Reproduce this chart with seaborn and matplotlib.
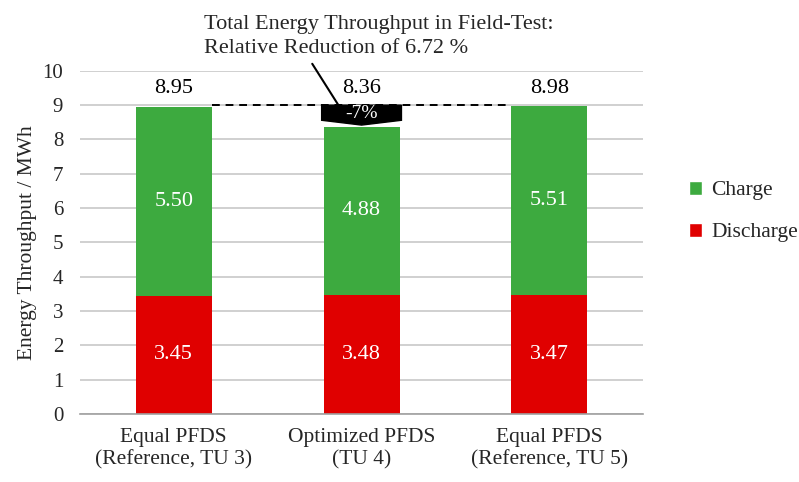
import numpy as np
import pandas as pd
import seaborn as sns
import matplotlib.pyplot as plt
from matplotlib.patches import Polygon, Patch

categories = ['Equal PFDS\n(Reference, TU 3)', 'Optimized PFDS\n(TU 4)', 'Equal PFDS\n(Reference, TU 5)']
charge = [5.50, 4.88, 5.51]
discharge = [3.45, 3.48, 3.47]
totals = [8.95, 8.36, 8.98]
reduction_label = '-7%'
note = 'Total Energy Throughput in Field-Test:\nRelative Reduction of 6.72 %'

green = '#3DAA3F'
red = '#E00000'

sns.set_theme(style='white')
plt.rcParams['font.family'] = ['Liberation Serif', 'DejaVu Serif']

df = pd.DataFrame({'cat': categories, 'charge': charge, 'discharge': discharge, 'total': totals})

fig = plt.figure(figsize=(7.99, 4.82), dpi=100)
ax = fig.add_axes([0.100, 0.141, 0.705, 0.712])

ax.set_axisbelow(True)
ax.yaxis.grid(True, color='#c8c8c8', linewidth=1.2)
bw = 0.405
sns.barplot(data=df, x='cat', y='total', color=green, width=bw, saturation=1, ax=ax, linewidth=0)
sns.barplot(data=df, x='cat', y='discharge', color=red, width=bw, saturation=1, ax=ax, linewidth=0)

ax.set_ylim(0, 10)
ax.set_xlim(-0.5, 2.5)
ax.set_yticks(range(0, 11))
ax.tick_params(axis='y', labelsize=15, length=0, pad=12)
ax.tick_params(axis='x', labelsize=15.5, length=0, pad=10)
ax.set_xlabel('')
ax.set_ylabel('Energy Throughput / MWh', fontsize=15.5, labelpad=4)
for s in ['top', 'right', 'left']:
    ax.spines[s].set_visible(False)
ax.spines['bottom'].set_color('#a0a0a0')
ax.spines['bottom'].set_linewidth(1.2)

for i in range(len(categories)):
    ax.text(i, discharge[i] / 2, f'{discharge[i]:.2f}', color='white', ha='center', va='center', fontsize=16)
    ax.text(i, discharge[i] + charge[i] / 2, f'{charge[i]:.2f}', color='white', ha='center', va='center', fontsize=16)
    ax.text(i, 9.2, f'{totals[i]:.2f}', color='black', ha='center', va='bottom', fontsize=16)

# dashed reference line at the first total
ax.plot([0 + bw / 2, 2 - bw / 2], [9, 9], color='black', linestyle=(0, (4, 3)), linewidth=1.4, zorder=3)

# black callout showing the reduction
h = bw / 2 + 0.01
poly = Polygon([[1 - h, 9.0], [1 + h, 9.0], [1 + h, 8.56], [1, 8.42], [1 - h, 8.56]],
               closed=True, facecolor='black', edgecolor='black', zorder=4)
ax.add_patch(poly)
ax.text(1, 8.76, reduction_label, color='white', ha='center', va='center', fontsize=14, zorder=5)

ax.annotate(note, xy=(0.9, 8.8), xytext=(0.16, 10.37), textcoords='data',
            fontsize=16, ha='left', va='bottom', linespacing=1.35,
            arrowprops=dict(arrowstyle='-', color='black', linewidth=1.5,
                            shrinkA=2, shrinkB=0, relpos=(0.3, 0.0)),
            annotation_clip=False)

handles = [Patch(facecolor=green, label='Charge'), Patch(facecolor=red, label='Discharge')]
fig.legend(handles=handles, loc='upper left', bbox_to_anchor=(0.838, 0.665), frameon=False,
           fontsize=15.5, handlelength=0.6, handleheight=0.6, labelspacing=1.05, handletextpad=0.45)

fig.savefig('out.png', dpi=100)
